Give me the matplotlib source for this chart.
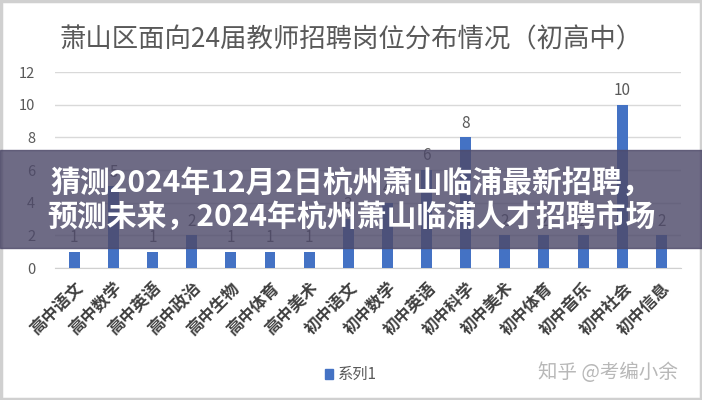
import matplotlib
matplotlib.use('Agg')
from matplotlib import pyplot as plt
from matplotlib.patches import Rectangle

plt.rcParams['font.family'] = ['Noto Sans CJK SC', 'DejaVu Sans']

categories = ['高中语文', '高中数学', '高中英语', '高中政治', '高中生物', '高中体育', '高中美术',
              '初中语文', '初中数学', '初中英语', '初中科学', '初中美术', '初中体育', '初中音乐',
              '初中社会', '初中信息']
values = [1, 5, 1, 2, 1, 1, 1, 3, 4, 6, 8, 2, 2, 2, 10, 2]
y_ticks = [0, 2, 4, 6, 8, 10, 12]
title = '萧山区面向24届教师招聘岗位分布情况（初高中）'
series_name = '系列1'
banner_lines = ['猜测2024年12月2日杭州萧山临浦最新招聘，', '预测未来，2024年杭州萧山临浦人才招聘市场']
watermark = '知乎 @考编小余'

fig = plt.figure(figsize=(7.02, 4.0), dpi=100)
ax = fig.add_axes([0.078, 0.33, 0.892, 0.49])

x = list(range(len(categories)))
ax.bar(x, values, width=0.28, color='#4472C4', zorder=3)
for xi, v in zip(x, values):
    ax.text(xi, v + 0.35, str(v), ha='center', va='bottom', fontsize=11, color='#595959')

ax.set_xlim(-0.5, len(categories) - 0.5)
ax.set_ylim(0, 12)
ax.set_yticks(y_ticks)
ax.set_yticklabels([str(t) for t in y_ticks], fontsize=10.5, color='#595959')
ax.yaxis.grid(True, color='#d9d9d9', linewidth=1, zorder=0)
ax.set_xticks(x)
ax.set_xticklabels(categories, rotation=45, ha='right', rotation_mode='anchor',
                   fontsize=12, color='#404040', fontweight='bold')
ax.tick_params(axis='both', length=0, pad=8)
ax.tick_params(axis='y', pad=14)
for s in ['top', 'right', 'left']:
    ax.spines[s].set_visible(False)
ax.spines['bottom'].set_color('#d0d0d0')

fig.text(0.5, 0.90, title, ha='center', va='center', fontsize=19, color='#595959',
         fontweight='medium')

# legend
fig.patches.append(Rectangle((0.463, 0.052), 0.012, 0.025, transform=fig.transFigure,
                             color='#4472C4', figure=fig))
fig.text(0.482, 0.064, series_name, ha='left', va='center', fontsize=11, color='#595959')

# watermark
fig.text(0.965, 0.07, watermark, ha='right', va='center', fontsize=14, color='#b8b8b8')

# banner overlay
fig.patches.append(Rectangle((0, 1 - 248 / 400), 1, 98 / 400, transform=fig.transFigure,
                             color='#4e4a6a', alpha=0.82, figure=fig, zorder=5))
fig.text(0.5, 1 - 183 / 400, banner_lines[0], ha='center', va='center', fontsize=21.5,
         color='white', fontweight='bold', zorder=6)
fig.text(0.5, 1 - 218 / 400, banner_lines[1], ha='center', va='center', fontsize=21.5,
         color='white', fontweight='bold', zorder=6)

# frame
fig.patches.append(Rectangle((0.002, 0.003), 0.996, 0.994, transform=fig.transFigure,
                             fill=False, edgecolor='#d0d0d0', linewidth=2.5, figure=fig))

fig.savefig('out.png', dpi=100)
